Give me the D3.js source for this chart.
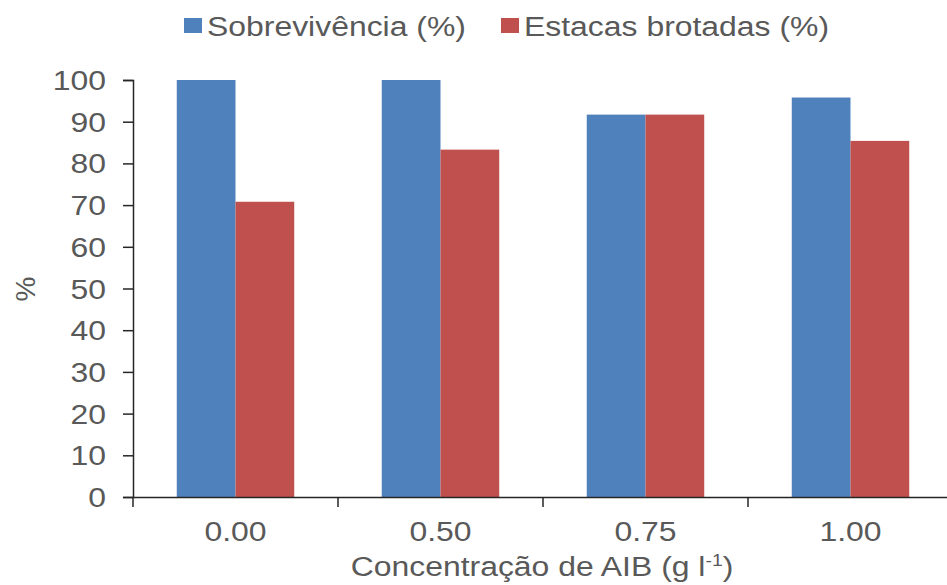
<!DOCTYPE html>
<html>
<head>
<meta charset="utf-8">
<script src="https://cdn.jsdelivr.net/npm/d3@7"></script>
<style>
body{margin:0;background:#fff;}
text{font-family:"Liberation Sans",Arial,sans-serif;fill:#595959;}
</style>
</head>
<body>
<svg id="chart" width="947" height="585"></svg>
<script>
const categories = ["0.00", "0.50", "0.75", "1.00"];
const seriesNames = ["Sobrevivência (%)", "Estacas brotadas (%)"];
const sobrevivencia = [100, 100, 91.7, 95.8];
const estacasBrotadas = [70.8, 83.3, 91.7, 85.4];
const yTicks = [0, 10, 20, 30, 40, 50, 60, 70, 80, 90, 100];
const colors = ["#4F81BD", "#C0504D"];

const svg = d3.select("#chart");
const fs = 28;
const sx = 1.14;
const mLeft = 133, mRight = 953, mTop = 80, mBottom = 497;

const x = d3.scaleBand().domain(categories).range([mLeft, mRight]).padding(0);
const y = d3.scaleLinear().domain([0, 100]).range([mBottom, mTop]);
const groupFrac = 0.573;
const xs = d3.scaleBand().domain([0, 1]).range([0, x.bandwidth() * groupFrac]).padding(0);
const off = (x.bandwidth() - x.bandwidth() * groupFrac) / 2;

const series = [sobrevivencia, estacasBrotadas];
series.forEach((vals, si) => {
  svg.append("g").selectAll("rect").data(vals).join("rect")
    .attr("x", (d, i) => x(categories[i]) + off + xs(si))
    .attr("y", d => y(d))
    .attr("width", xs.bandwidth())
    .attr("height", d => y(0) - y(d))
    .attr("fill", colors[si]);
});

function stretch(sel) {
  sel.each(function() {
    const t = d3.select(this);
    const tx = +t.attr("x") || 0, ty = +t.attr("y") || 0;
    t.attr("x", 0).attr("y", 0).attr("transform", `translate(${tx},${ty}) scale(${sx},1)`);
  });
}

// Y axis
const yAxis = d3.axisLeft(y).tickValues(yTicks).tickSize(10).tickPadding(17).tickFormat(d3.format("d"));
const gy = svg.append("g").attr("transform", `translate(${mLeft},0)`).call(yAxis);
gy.select(".domain").attr("stroke", "#262626").attr("stroke-width", 1.5);
gy.selectAll(".tick line").attr("stroke", "#262626").attr("stroke-width", 1.5);
gy.selectAll(".tick text").style("font-size", fs + "px").attr("fill", "#595959").attr("dy", "0.34em").call(stretch);

// X axis
const xAxis = d3.axisBottom(x).tickSize(0).tickPadding(24);
const gx = svg.append("g").attr("transform", `translate(0,${mBottom})`).call(xAxis);
gx.select(".domain").attr("stroke", "#262626").attr("stroke-width", 1.5);
gx.selectAll(".tick text").style("font-size", fs + "px").attr("fill", "#595959").call(stretch);
gx.selectAll("line.sep").data(categories).join("line").attr("class", "sep")
  .attr("x1", d => x(d)).attr("x2", d => x(d)).attr("y1", 0).attr("y2", 10)
  .attr("stroke", "#262626").attr("stroke-width", 1.5);

// X label
const xl = svg.append("text").attr("x", 542).attr("y", 576).attr("text-anchor", "middle")
  .style("font-size", fs + "px");
xl.append("tspan").text("Concentração de AIB (g l");
xl.append("tspan").text("-1").attr("dy", -10).style("font-size", "17px");
xl.append("tspan").text(")").attr("dy", 10);
xl.call(stretch);

// Y label
svg.append("text").attr("transform", `translate(35,289) rotate(-90)`).attr("text-anchor", "middle")
  .style("font-size", fs + "px").text("%");

// Legend
const legendX = [184, 501];
seriesNames.forEach((n, i) => {
  svg.append("rect").attr("x", legendX[i]).attr("y", 18).attr("width", 18).attr("height", 15).attr("fill", colors[i]);
  svg.append("text").attr("x", legendX[i] + 23).attr("y", 36).style("font-size", fs + "px").text(n).call(stretch);
});
</script>
</body>
</html>
